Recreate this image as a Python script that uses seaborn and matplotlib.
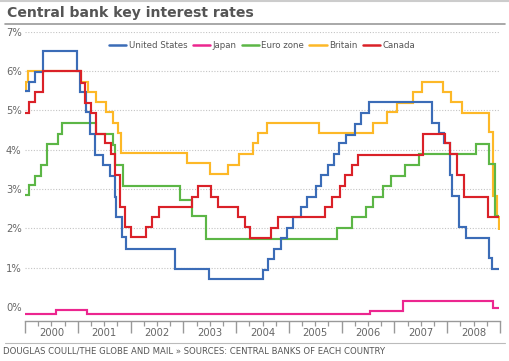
import matplotlib
matplotlib.use("Agg")
import matplotlib.pyplot as plt
from matplotlib.lines import Line2D
import seaborn as sns
import pandas as pd

# ---------------- data ----------------
title = "Central bank key interest rates"
source = "DOUGLAS COULL/THE GLOBE AND MAIL \u00bb SOURCES: CENTRAL BANKS OF EACH COUNTRY"
countries = ["United States", "Japan", "Euro zone", "Britain", "Canada"]
colors = ["#3b6cb7", "#ec268f", "#5cb646", "#fdb827", "#da2128"]
end_date = 2008.99

us_t = [2000.00, 2000.07, 2000.18, 2000.35, 2000.98, 2001.05, 2001.16, 2001.24,
        2001.32, 2001.47, 2001.62, 2001.70, 2001.73, 2001.84, 2001.92, 2002.84,
        2003.49, 2004.50, 2004.60, 2004.72, 2004.85, 2004.96, 2005.08, 2005.23,
        2005.34, 2005.51, 2005.61, 2005.74, 2005.86, 2005.95, 2006.09, 2006.26,
        2006.37, 2006.51, 2007.71, 2007.84, 2007.93, 2008.05, 2008.09, 2008.22,
        2008.35, 2008.79, 2008.84]
us_v = [5.49, 5.72, 5.99, 6.51, 6.00, 5.48, 4.97, 4.40,
        3.87, 3.61, 3.33, 2.81, 2.30, 1.77, 1.48, 0.97,
        0.70, 0.94, 1.21, 1.48, 1.75, 2.02, 2.30, 2.55,
        2.81, 3.08, 3.36, 3.61, 3.88, 4.16, 4.38, 4.66,
        4.94, 5.21, 4.67, 4.42, 4.16, 3.36, 2.83, 2.03,
        1.76, 1.25, 0.96]

jp_t = [2000.00, 2000.59, 2001.17, 2006.54, 2007.16, 2008.87]
jp_v = [-0.19, -0.08, -0.18, -0.10, 0.16, -0.03]

eu_t = [2000.00, 2000.07, 2000.18, 2000.30, 2000.42, 2000.63, 2000.71, 2001.34,
        2001.66, 2001.70, 2001.85, 2002.93, 2003.17, 2003.43, 2005.92, 2006.19,
        2006.46, 2006.59, 2006.78, 2006.94, 2007.20, 2007.46, 2008.55, 2008.80,
        2008.90]
eu_v = [2.85, 3.10, 3.34, 3.60, 4.15, 4.39, 4.67, 4.39,
        4.12, 3.60, 3.08, 2.72, 2.31, 1.73, 2.00, 2.28,
        2.54, 2.81, 3.08, 3.34, 3.61, 3.88, 4.15, 3.63,
        2.32]

uk_t = [2000.00, 2000.02, 2000.05, 2001.06, 2001.20, 2001.34, 2001.54, 2001.66,
        2001.76, 2001.82, 2003.07, 2003.50, 2003.85, 2004.06, 2004.32, 2004.42,
        2004.58, 2005.58, 2006.59, 2006.86, 2007.04, 2007.35, 2007.52, 2007.92,
        2008.08, 2008.28, 2008.79, 2008.86, 2008.95, 2008.985]
uk_v = [5.49, 5.73, 6.00, 5.73, 5.48, 5.22, 4.97, 4.67,
        4.42, 3.92, 3.66, 3.38, 3.61, 3.88, 4.17, 4.42,
        4.68, 4.43, 4.69, 4.95, 5.20, 5.46, 5.73, 5.46,
        5.21, 4.94, 4.44, 2.83, 2.30, 1.96]

ca_t = [2000.00, 2000.07, 2000.18, 2000.35, 2001.06, 2001.14, 2001.25, 2001.35,
        2001.51, 2001.63, 2001.71, 2001.80, 2001.89, 2002.01, 2002.29, 2002.41,
        2002.54, 2003.17, 2003.28, 2003.52, 2003.66, 2004.04, 2004.17, 2004.26,
        2004.66, 2004.80, 2005.69, 2005.81, 2005.96, 2006.07, 2006.19, 2006.30,
        2007.55, 2007.95, 2008.06, 2008.19, 2008.31, 2008.78]
ca_v = [4.94, 5.22, 5.46, 6.00, 5.71, 5.18, 4.94, 4.40,
        4.16, 3.88, 3.36, 2.55, 2.04, 1.77, 2.04, 2.30,
        2.54, 2.81, 3.09, 2.81, 2.55, 2.28, 2.04, 1.76,
        2.00, 2.28, 2.55, 2.81, 3.08, 3.36, 3.61, 3.87,
        4.41, 4.17, 3.88, 3.37, 2.81, 2.30]

years = list(range(2000, 2010))
year_labels = ["2000", "2001", "2002", "2003", "2004", "2005", "2006", "2007", "2008"]
y_ticks = [0, 1, 2, 3, 4, 5, 6, 7]
y_labels = ["0%", "1%", "2%", "3%", "4%", "5%", "6%", "7%"]

series_t = [us_t, jp_t, eu_t, uk_t, ca_t]
series_v = [us_v, jp_v, eu_v, uk_v, ca_v]
z_orders = [4, 3, 2, 1, 5]

# ---------------- figure ----------------
sns.set_style("white")
plt.rcParams["font.family"] = ["DejaVu Sans"]

W, H = 510, 361
fig = plt.figure(figsize=(W / 100, H / 100), dpi=100)
ax = fig.add_axes([25 / W, 1 - 320.7 / H, 475 / W, (320.7 - 31.9) / H])

handles = {}
for name, col, t, v, z in zip(countries, colors, series_t, series_v, z_orders):
    df = pd.DataFrame({"date": t + [end_date], "rate": v + [v[-1]]})
    sns.lineplot(data=df, x="date", y="rate", ax=ax, color=col, lw=1.55,
                 drawstyle="steps-post", estimator=None, sort=False,
                 zorder=z, solid_joinstyle="miter", solid_capstyle="butt")
    handles[name] = Line2D([], [], color=col, lw=1.8)

ax.set_xlim(2000, 2009)
ax.set_ylim(-0.35, 7)
ax.set_xlabel("")
ax.set_ylabel("")

for v in y_ticks[1:]:
    ax.axhline(v, color="#c4c4c4", lw=0.8, ls=(0, (1, 1.5)), zorder=0)

for s in ["top", "right", "left"]:
    ax.spines[s].set_visible(False)
ax.spines["bottom"].set_color("#999999")
ax.spines["bottom"].set_linewidth(1.0)

ax.set_xticks(years)
ax.set_xticklabels([""] * len(years))
minor = [2000 + q / 4 for q in range(36) if q % 4 != 0]
minor_lbl = [year_labels[int(q // 4)] if q % 4 == 2 else "" for q in range(36) if q % 4 != 0]
ax.set_xticks(minor, minor=True)
ax.set_xticklabels(minor_lbl, minor=True)
ax.tick_params(axis="x", which="major", length=8.5, width=1.0, color="#999999", bottom=True)
ax.tick_params(axis="x", which="minor", length=3.3, width=0.9, color="#999999",
               bottom=True, pad=2.2, labelsize=7.2, labelcolor="#666666")

ax.set_yticks(y_ticks)
ax.set_yticklabels(y_labels)
ax.tick_params(axis="y", length=0, pad=13.7, labelsize=7.2, labelcolor="#666666")
for lbl in ax.get_yticklabels():
    lbl.set_horizontalalignment("left")

leg = ax.legend([handles[c] for c in countries], countries, ncol=5, frameon=False,
                loc="center left", bbox_to_anchor=(109 / W, 1 - 46 / H),
                bbox_transform=fig.transFigure, fontsize=6.2, handlelength=2.0,
                handletextpad=0.3, columnspacing=0.6, borderaxespad=0, borderpad=0)
for txt in leg.get_texts():
    txt.set_color("#555555")

# title, rules and source line
fig.add_artist(Line2D([0, 1], [1 - 0.8 / H] * 2, color="#cccccc", lw=1.5))
fig.text(7 / W, 1 - 17.5 / H, title, fontsize=10.1, fontweight="bold",
         color="#555555", va="baseline")
fig.add_artist(Line2D([5 / W, 505 / W], [1 - 24 / H] * 2, color="#9a9a9a", lw=1.2))
fig.add_artist(Line2D([5 / W, 505 / W], [1 - 343 / H] * 2, color="#bbbbbb", lw=0.8))
fig.text(3 / W, 1 - 351 / H, source, fontsize=6.1, color="#555555", va="center")

fig.savefig("out.png", dpi=100)
